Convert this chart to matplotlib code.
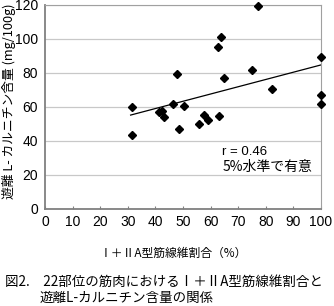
import numpy as np
import matplotlib
matplotlib.use("Agg")
import matplotlib.pyplot as plt

plt.rcParams['font.family'] = ['Liberation Sans', 'Noto Sans CJK JP', 'DejaVu Sans']
cjk = ['Noto Sans CJK JP', 'DejaVu Sans']

# I+IIA型筋線維割合 (%) と 遊離L-カルニチン含量 (mg/100g)
fiber_ratio = [31.6, 31.6, 41.3, 42.5, 43.0, 46.4, 47.7, 48.6, 50.2, 55.8, 57.5,
               59.1, 62.8, 62.9, 63.8, 64.7, 74.9, 77.3, 82.1, 100.0, 100.0, 100.0]
carnitine = [59.8, 43.3, 57.3, 57.9, 54.2, 61.9, 79.4, 47.0, 60.6, 50.1, 55.3,
             52.6, 95.1, 54.8, 101.4, 76.9, 81.9, 119.6, 70.7, 89.1, 66.8, 61.9]
x_ticks = list(range(0, 101, 10))
y_ticks = list(range(0, 121, 20))

fig = plt.figure(figsize=(3.34, 3.06), dpi=100)
ax = fig.add_axes([0.135, 0.317, 0.826, 0.667])

# 近似直線
slope, intercept = np.polyfit(fiber_ratio, carnitine, 1)
xs = np.array([min(fiber_ratio) - 0.6, max(fiber_ratio)])
ax.plot(xs, slope * xs + intercept, color='black', lw=0.9, zorder=2)

ax.plot(fiber_ratio, carnitine, 'D', color='black', ms=4.3, zorder=3,
        clip_on=False)

ax.set_xlim(0, 100)
ax.set_ylim(0, 120)
ax.set_xticks(x_ticks)
ax.set_yticks(y_ticks)
ax.yaxis.grid(True, color='#c8c8c8', lw=0.9)
ax.set_axisbelow(True)
for side in ['top', 'right']:
    ax.spines[side].set_color('#a0a0a0')
    ax.spines[side].set_linewidth(0.8)
for side in ['left', 'bottom']:
    ax.spines[side].set_color('#808080')
    ax.spines[side].set_linewidth(1.3)
ax.tick_params(axis='both', labelsize=10, direction='in', length=2,
               color='#808080', pad=4)
ax.tick_params(axis='y', length=0, pad=5)

ax.text(64.2, 33.6, 'r = 0.46', fontsize=9.5, va='center')
ax.text(64.2, 24.5, '5%水準で有意', fontsize=10, va='center', family=cjk)

fig.text(0.026, 0.67, '遊離 L- カルニチン含量 (mg/100g)', fontsize=9.2,
         rotation=90, ha='center', va='center', family=cjk)
fig.text(0.52, 0.173, 'Ⅰ＋ⅡA型筋線維割合（%）', fontsize=8.5, ha='center',
         va='center', family=cjk)

fig.text(0.015, 0.078, '図2.　22部位の筋肉におけるⅠ＋ⅡA型筋線維割合と', fontsize=9.7,
         va='center', family=cjk)
fig.text(0.117, 0.026, '遊離L-カルニチン含量の関係', fontsize=9.7,
         va='center', family=cjk)

fig.savefig('out.png', dpi=100)
